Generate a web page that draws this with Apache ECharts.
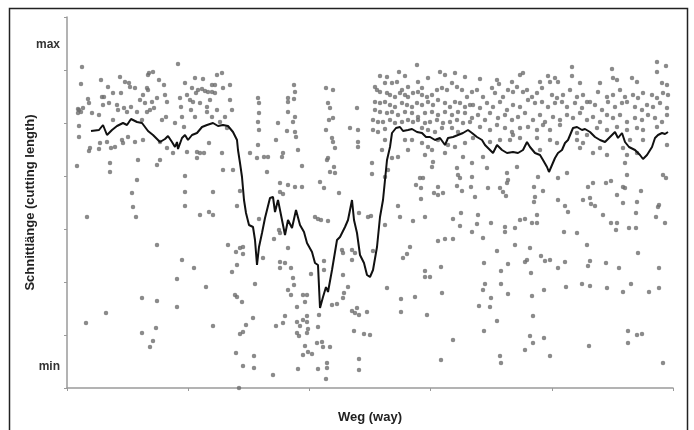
<!DOCTYPE html>
<html lang="de">
<head>
<meta charset="UTF-8">
<title>Schnittlänge</title>
<script src="https://cdn.jsdelivr.net/npm/echarts@6.0.0/dist/echarts.min.js"></script>
<style>
    html, body { margin: 0; background: #fff; }
    #chart { width: 694px; height: 430px; }
</style>
</head>
<body>
<div id="chart"></div>
<script>
// Weg: 0..606, Schnittlänge: 0 (min) .. 371 (max)
var pointsLeft = [
    [15,321],[14,304],[11,279],[12,278],[14,276],[16,280],[11,275],[12,262],[12,251],[10,222],[21,289],[22,285],[25,275],[23,240],[22,237],
    [34,308],[35,291],[37,291],[36,283],[32,273],[33,245],[32,239],[40,246],[41,301],[42,285],[43,225],[43,216],[44,240],[46,295],[46,268],
    [48,241],[50,283],[51,278],[53,311],[54,295],[55,248],[56,245],[58,306],[62,305],[57,280],[60,276],[61,251],[63,301],[64,281],[68,246],
    [68,300],[70,276],[70,208],[71,228],[73,288],[76,293],[75,268],[76,248],[78,285],[81,313],[82,315],[86,316],[80,300],[81,298],[80,276],
    [83,278],[85,286],[87,280],[90,290],[90,223],[92,308],[93,228],[97,303],[98,293],[99,271],[95,268],[93,246],[100,286],[100,240],[106,235],
    [108,265],[111,324],[113,290],[114,281],[115,271],[118,305],[117,261],[118,212],[120,293],[120,236],[123,288],[124,278],[126,286],[125,300],
    [128,310],[129,295],[128,271],[130,236],[133,235],[137,235],[130,230],[131,298],[135,299],[138,297],[141,296],[145,296],[148,295],[136,309],
    [133,285],[140,281],[140,276],[145,303],[148,303],[150,313],[155,315],[142,245],[143,288],[145,271],[146,196],[150,278],[153,266],[156,300],
    [156,218],[155,235],[158,271],[163,303],[163,288],[165,278],[166,218],[160,260],[170,182],[183,235],[191,290],[192,285],[192,275],[191,266],
    [192,258],[191,243],[190,230],[197,231],[201,231],[200,216],[65,195],[66,181],[118,196],[118,182],
    [69,171],[20,171],[133,173],[142,176],[90,143],[115,128],[127,120],[110,109],[139,101],[75,90],[90,87],[110,81],[39,75],[19,65],[89,60],
    [75,55],[86,47],[83,41]
];

var pointsDrop = [
    [173,197],[146,173],[213,205],[221,203],[228,201],[235,201],[213,196],[216,194],[253,206],[257,200],[272,195],[192,169],[212,158],[213,155],
    [207,149],[248,171],[251,169],[254,168],[261,167],[292,175],[301,171],[304,172],[318,163],[331,182],[333,171],[161,143],[169,136],[173,140],
    [176,141],[176,134],[196,130],[221,140],[213,126],[218,125],[213,120],[224,120],[170,123],[165,116],[257,127],[257,118],[275,138],[276,135],
    [285,138],[288,135],[285,128],[276,113],[306,137],[336,130],[340,134],[188,104],[226,110],[227,103],[221,98],[224,93],[236,93],[240,93],
    [238,86],[244,114],[168,93],[170,91],[175,86],[320,100],[281,101],[277,95],[276,90],[270,84],[230,81],[218,72],[216,65],[230,66],[233,62],
    [236,68],[240,72],[240,66],[209,62],[186,70],[179,63],[176,56],[173,54],[230,55],[232,52],[240,55],[241,59],[251,61],[252,73],[265,83],
    [285,77],[288,75],[292,73],[290,80],[300,76],[287,57],[297,54],[303,53],[146,62],[334,89],[334,76],[238,42],[236,33],[241,36],[245,34],
    [250,45],[255,46],[256,41],[263,41],[260,25],[260,20],[251,19],[259,9],[231,19],[206,13],[169,35],[176,22],[187,32],[187,20],[292,29],
    [292,18],[172,0],
    [227,303],[228,296],[221,290],[221,286],[227,289],[221,276],[228,271],[226,266],[211,265],[220,257],[228,256],[229,251],[209,248],[231,238],
    [216,235],[215,231],[235,222],[259,300],[266,298],[261,285],[263,280],[262,268],[266,270],[259,258],[265,250],[266,246],[268,240],[261,230],
    [260,228],[267,221],[263,216],[268,215],[290,280],[283,260],[291,258],[291,246],[291,241],[305,225],[305,214],[318,211],[321,218],[325,230],
    [331,231],[318,248],[315,238],[341,238],[365,221],[366,226],[390,220],[405,225],[396,231],[378,235],[358,233]
];

var pointsRight = [
    [350,323],[313,312],[320,311],[332,316],[338,312],[308,301],[310,298],[313,296],[318,305],[325,305],[330,306],[335,298],[341,301],[351,306],
    [355,300],[361,310],[373,316],[378,313],[388,315],[398,311],
    [320,295],[323,293],[328,291],[333,295],[338,293],[341,291],[346,295],[351,296],[355,293],[360,291],[365,293],[370,298],[375,300],[380,298],
    [385,305],[390,301],[395,298],[400,291],[405,296],
    [308,286],[313,285],[318,286],[323,283],[328,281],[335,285],[340,283],[345,281],[350,285],[355,283],[361,286],[366,283],[371,288],[378,285],
    [383,281],[388,286],[393,285],[398,281],[403,283],
    [308,278],[313,276],[320,275],[325,276],[331,273],[338,276],[345,275],[351,271],[358,275],[365,276],[371,273],[378,276],[385,273],[391,276],
    [398,275],
    [306,268],[311,266],[316,266],[323,268],[328,265],[335,266],[341,268],[346,266],[351,268],[358,265],[363,266],[370,268],[376,265],[383,266],
    [390,268],[396,265],[403,266],
    [306,258],[311,256],[318,259],[355,260],[361,258],[368,256],[375,260],[385,260],[391,256],
    [338,248],[345,248],[355,245],[361,241],[365,238],[371,248],[381,243],[388,241],[398,245],
    [590,326],[599,322],[505,321],[505,312],[545,319],[456,315],[453,313],[481,312],[483,306],[488,310],[491,306],[413,309],[430,308],[432,304],
    [445,306],[446,296],[473,306],[513,305],[533,305],[546,310],[550,308],[565,310],[570,306],[590,316],[595,305],[600,303],
    [410,298],[416,291],[425,300],[428,295],[436,291],[441,298],[450,301],[456,296],[460,298],[465,291],[470,295],[475,300],[485,293],[490,290],
    [496,293],[503,298],[510,291],[516,293],[523,286],[531,296],[540,291],[546,293],[553,298],[558,291],[566,293],[571,290],[576,295],[585,293],
    [590,290],[596,295],[601,293],
    [406,283],[413,280],[420,285],[426,281],[433,286],[440,278],[446,283],[453,281],[461,288],[468,285],[475,286],[481,281],[488,285],[495,286],
    [500,281],[508,285],[515,280],[520,286],[528,283],[535,278],[541,286],[548,281],[555,285],[560,286],[568,281],[575,278],[580,283],[586,281],
    [593,285],[600,280],
    [405,270],[411,273],[418,268],[423,275],[431,270],[438,273],[445,268],[451,271],[458,275],[466,268],[473,273],[478,266],[486,271],[493,268],
    [500,273],[506,270],[513,275],[520,268],[526,271],[533,266],[540,273],[546,270],[553,273],[560,266],[568,270],[575,268],[581,273],[588,270],
    [595,266],[600,273],
    [413,261],[423,258],[430,263],[438,260],[445,256],[453,260],[461,261],[470,258],[476,263],[483,258],[493,263],[510,255],[520,253],[530,260],
    [540,258],[550,261],[560,258],[570,260],[576,258],[590,261],
    [406,250],[416,231],[423,246],[433,248],[443,248],[446,253],[453,250],[470,250],[473,238],[483,248],[490,245],[510,248],[516,245],[513,240],
    [526,235],[533,240],[540,233],[556,240],[560,233],[563,248],[570,235],[576,248],[600,243],[420,220],[450,221],[558,225]
];

var pointsLow = [
    [353,210],[356,210],[349,203],[354,200],[354,189],[367,195],[371,193],[376,195],[371,201],[391,213],[393,210],[390,202],[395,197],[405,211],
    [404,201],[408,191],[421,200],[433,200],[436,196],[439,192],[440,205],[441,208],[440,215],[471,211],[467,201],[476,197],[468,191],[467,186],
    [491,210],[500,215],[491,188],[498,182],[501,176],[516,188],[523,190],[524,184],[528,182],[521,201],[526,205],[539,205],[544,207],[550,193],
    [556,185],[556,201],[558,200],[560,213],[574,197],[570,186],[569,175],[592,183],[591,181],[596,213],[599,210],[589,171],[598,165],[536,173],
    [544,165],[550,165],[549,158],[562,160],[569,160],
    [346,167],[358,171],[386,169],[394,175],[393,162],[405,156],[411,173],[410,164],[416,150],[424,165],[438,161],[438,156],[448,160],[453,168],
    [458,169],[465,165],[470,165],[470,173],[497,156],[510,155],[371,147],[378,149],[386,149],[343,141],[430,137],[448,143],[463,140],[520,143],
    [571,135],[374,121],[358,117],[363,111],[358,111],[417,125],[434,117],[441,124],[458,126],[460,128],[464,115],[474,132],[478,127],[483,128],
    [491,120],[498,126],[523,127],[521,122],[539,125],[552,120],[592,120],
    [348,91],[360,73],[375,95],[416,98],[418,104],[424,90],[423,81],[412,82],[434,104],[441,94],[465,92],[477,98],[499,101],[515,104],[523,102],
    [540,100],[556,96],[564,104],[582,96],[592,100],[430,67],[466,72],[417,57],[386,48],[463,52],[466,45],[458,38],[477,50],[483,32],[522,42],
    [561,57],[570,53],[575,54],[561,45],[374,28],[433,32],[434,25],[596,25]
];

// gleitender Mittelwert
var avgLine = [
    [24,257],[32,258],[36,263],[40,253],[42,251],[45,258],[50,262],[56,265],[60,263],[64,269],[70,266],[75,265],[78,261],[81,257],[86,253],
    [93,246],[98,249],[101,252],[105,246],[108,241],[110,246],[111,239],[115,250],[118,253],[121,248],[125,253],[130,255],[135,261],[140,263],
    [146,265],[151,262],[156,263],[161,262],[166,256],[170,248],[171,238],[173,225],[175,211],[177,188],[179,175],[182,163],[186,161],[188,148],
    [190,123],[192,141],[195,155],[198,170],[203,190],[206,191],[208,176],[211,188],[215,168],[218,153],[221,168],[225,160],[229,178],[233,163],
    [237,156],[240,145],[245,136],[248,125],[251,123],[253,80],[256,91],[259,101],[261,96],[265,118],[270,148],[273,151],[278,161],[281,168],
    [285,188],[287,168],[290,155],[293,133],[297,125],[300,113],[303,111],[306,118],[310,141],[313,171],[316,188],[318,208],[320,228],[323,241],
    [325,255],[329,260],[333,261],[336,257],[341,258],[345,259],[350,256],[355,255],[359,251],[363,251],[368,248],[373,250],[378,243],[381,250],
    [386,251],[391,253],[396,255],[401,258],[405,255],[410,251],[415,248],[418,243],[421,240],[426,235],[430,243],[435,238],[440,235],[446,236],
    [451,235],[456,238],[460,246],[463,241],[468,235],[473,233],[476,228],[480,221],[482,216],[485,223],[488,230],[491,235],[495,238],[498,245],
    [501,248],[506,260],[510,261],[515,258],[518,259],[523,256],[528,251],[533,248],[538,246],[543,251],[548,256],[551,250],[555,255],[558,246],
    [562,241],[568,238],[573,233],[576,229],[580,233],[585,241],[588,250],[591,253],[595,255],[598,254],[601,256]
];

var yLabelValues = [21, 343];

var axisColor = '#9a9a9a';
var textStyle = { fontFamily: 'Liberation Sans, Arial, sans-serif', fontSize: 13, fontWeight: 'bold', color: '#222' };

var chart = echarts.init(document.getElementById('chart'));

var option = {
    backgroundColor: '#fff',
    animation: false,
    grid: { left: 67, top: 17, width: 606, height: 371 },
    xAxis: {
        type: 'value',
        min: 0,
        max: 606,
        interval: 121.2,
        name: 'Weg (way)',
        nameLocation: 'middle',
        nameGap: 23,
        nameTextStyle: textStyle,
        axisLine: { lineStyle: { color: axisColor, width: 1.5 } },
        axisTick: { length: 3, lineStyle: { color: axisColor } },
        axisLabel: { show: false },
        splitLine: { show: false }
    },
    yAxis: {
        type: 'value',
        min: 0,
        max: 371,
        interval: 53,
        name: 'Schnittlänge (cutting length)',
        nameLocation: 'middle',
        nameRotate: 90,
        nameGap: 30,
        nameMoveOverlap: false,
        nameTextStyle: textStyle,
        axisLine: { show: true, lineStyle: { color: axisColor, width: 1.5 } },
        axisTick: { show: true, length: 3, lineStyle: { color: axisColor } },
        axisLabel: {
            customValues: yLabelValues,
            margin: 7,
            fontFamily: textStyle.fontFamily,
            fontSize: 12,
            fontWeight: 'bold',
            color: '#333',
            formatter: function (v) { return v > 200 ? 'max' : 'min'; }
        },
        splitLine: { show: false }
    },
    graphic: [{
        type: 'rect',
        shape: { x: 9.5, y: 8.5, width: 678, height: 430 },
        style: { fill: 'none', stroke: '#222', lineWidth: 1.5 },
        silent: true
    }],
    series: [
        {
            type: 'scatter',
            data: pointsLeft.concat(pointsDrop, pointsRight, pointsLow),
            symbolSize: 4.5,
            itemStyle: { color: '#6e6e6e' },
            z: 2
        },
        {
            type: 'line',
            data: avgLine,
            showSymbol: false,
            lineStyle: { color: '#111', width: 2 },
            z: 3
        }
    ]
};

chart.setOption(option);
</script>
</body>
</html>
